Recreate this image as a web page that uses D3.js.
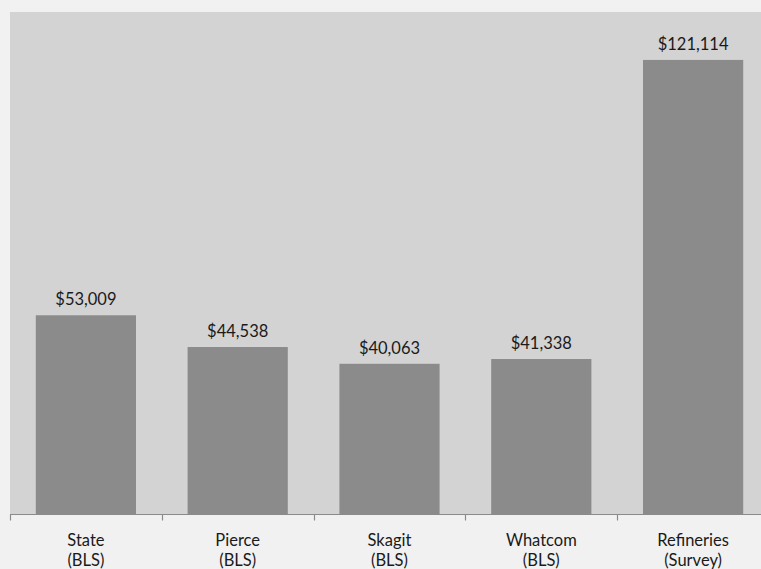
<!DOCTYPE html>
<html>
<head>
<meta charset="utf-8">
<script src="https://cdn.jsdelivr.net/npm/d3@7"></script>
<style>
  html, body { margin: 0; padding: 0; background: #f1f1f1; }
  svg { display: block; }
</style>
</head>
<body>
<svg id="chart" width="761" height="569"></svg>
<script>
// Average annual wage by area / source
const categories = ["State", "Pierce", "Skagit", "Whatcom", "Refineries"];
const sources = ["(BLS)", "(BLS)", "(BLS)", "(BLS)", "(Survey)"];
const wages = [53009, 44538, 40063, 41338, 121114];

const plot = { left: 10, top: 12, right: 769, bottom: 514 };
const FONT = "Lato, 'Open Sans', sans-serif";

const svg = d3.select("#chart");

// plot area background
svg.append("rect")
  .attr("x", plot.left).attr("y", plot.top)
  .attr("width", plot.right - plot.left).attr("height", plot.bottom - plot.top)
  .attr("fill", "#d3d3d3");

const x = d3.scaleBand()
  .domain(categories)
  .range([plot.left, plot.right])
  .paddingInner(0.34)
  .paddingOuter(0.17);

const y = d3.scaleLinear()
  .domain([0, 133900])
  .range([plot.bottom, plot.top]);

const data = categories.map((c, i) => ({ cat: c, src: sources[i], value: wages[i] }));

svg.append("g").selectAll("rect")
  .data(data)
  .join("rect")
  .attr("x", d => x(d.cat))
  .attr("y", d => y(d.value))
  .attr("width", x.bandwidth())
  .attr("height", d => y(0) - y(d.value))
  .attr("fill", "#8b8b8b");

// value labels above each bar
const fmt = d3.format("$,");
svg.append("g").selectAll("text")
  .data(data)
  .join("text")
  .attr("x", d => x(d.cat) + x.bandwidth() / 2)
  .attr("y", d => y(d.value) - 10)
  .attr("text-anchor", "middle")
  .attr("font-family", FONT)
  .attr("font-size", 16.5)
  .attr("fill", "#1a1a1a")
  .text(d => fmt(d.value));

// category axis with boundary ticks
const axisY = plot.bottom + 0.5;
const axis = svg.append("g");
axis.append("line")
  .attr("x1", plot.left).attr("x2", plot.right)
  .attr("y1", axisY).attr("y2", axisY)
  .attr("stroke", "#8a8a8a").attr("stroke-width", 1.2);

const tickXs = d3.range(categories.length + 1)
  .map(i => plot.left + i * (plot.right - plot.left) / categories.length);
axis.selectAll("line.tick")
  .data(tickXs)
  .join("line")
  .attr("class", "tick")
  .attr("x1", d => Math.round(d) + 0.5).attr("x2", d => Math.round(d) + 0.5)
  .attr("y1", axisY).attr("y2", axisY + 6)
  .attr("stroke", "#8a8a8a").attr("stroke-width", 1.2);

const labels = axis.selectAll("text")
  .data(data)
  .join("text")
  .attr("text-anchor", "middle")
  .attr("font-family", FONT)
  .attr("font-size", 16.5)
  .attr("fill", "#1a1a1a");
labels.append("tspan")
  .attr("x", d => x(d.cat) + x.bandwidth() / 2)
  .attr("y", 546)
  .text(d => d.cat);
labels.append("tspan")
  .attr("x", d => x(d.cat) + x.bandwidth() / 2)
  .attr("y", 566)
  .text(d => d.src);
</script>
</body>
</html>
